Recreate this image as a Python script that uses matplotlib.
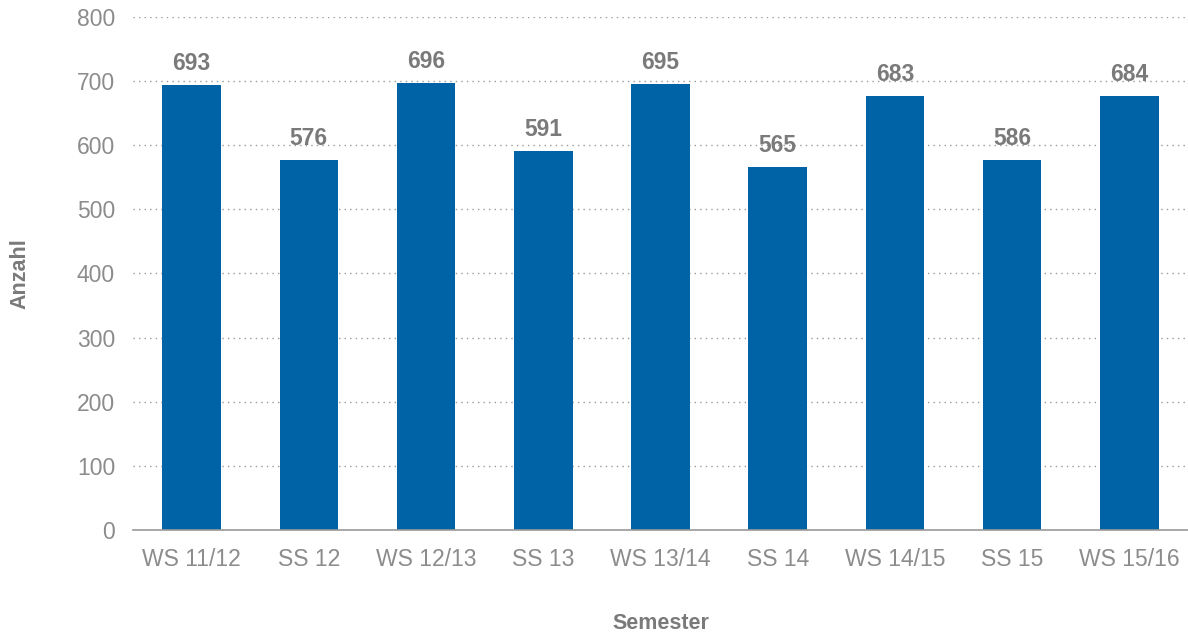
import numpy as np
import matplotlib.pyplot as plt

plt.rcParams['font.family'] = ['Liberation Sans', 'DejaVu Sans']

# semesters and counts (bar heights as drawn, labels as printed)
semesters = ["WS 11/12", "SS 12", "WS 12/13", "SS 13", "WS 13/14",
             "SS 14", "WS 14/15", "SS 15", "WS 15/16"]
counts = [694, 577, 697, 591, 696, 566, 677, 577, 677]
count_labels = ["693", "576", "696", "591", "695", "565", "683", "586", "684"]

fig = plt.figure(figsize=(11.88, 6.35), dpi=100)
ax = fig.add_axes([0.112, 0.1654, 0.888, 0.8078])

x = np.arange(len(semesters))
bars = ax.bar(x, counts, width=0.5, color="#0063a6", zorder=3)

for rect, lab in zip(bars, count_labels):
    ax.annotate(lab, (rect.get_x() + rect.get_width() / 2, rect.get_height()),
                xytext=(0, 7), textcoords="offset points",
                ha="center", va="bottom", fontsize=16.5, fontweight="bold",
                color="#7a7a7a")

ax.set_xlim(-0.5, len(semesters) - 0.5)
ax.set_ylim(0, 800)
ax.set_yticks(range(0, 801, 100))
ax.set_xticks(x)
ax.set_xticklabels(semesters)
ax.tick_params(axis="both", length=0, labelsize=16.5, labelcolor="#8c8c8c")
ax.tick_params(axis="y", pad=13)
ax.tick_params(axis="x", pad=13)

ax.yaxis.grid(True, linestyle=(0, (1, 3)), color="#999999", linewidth=1, zorder=0)
for s in ["top", "right", "left"]:
    ax.spines[s].set_visible(False)
ax.spines["bottom"].set_color("#999999")
ax.spines["bottom"].set_linewidth(1.2)
ax.spines["bottom"].set_zorder(4)

ax.set_ylabel("Anzahl", fontsize=15.5, fontweight="bold", color="#7a7a7a", labelpad=33)
ax.set_xlabel("Semester", fontsize=15.5, fontweight="bold", color="#7a7a7a", labelpad=30)

fig.savefig("out.png", dpi=100)
